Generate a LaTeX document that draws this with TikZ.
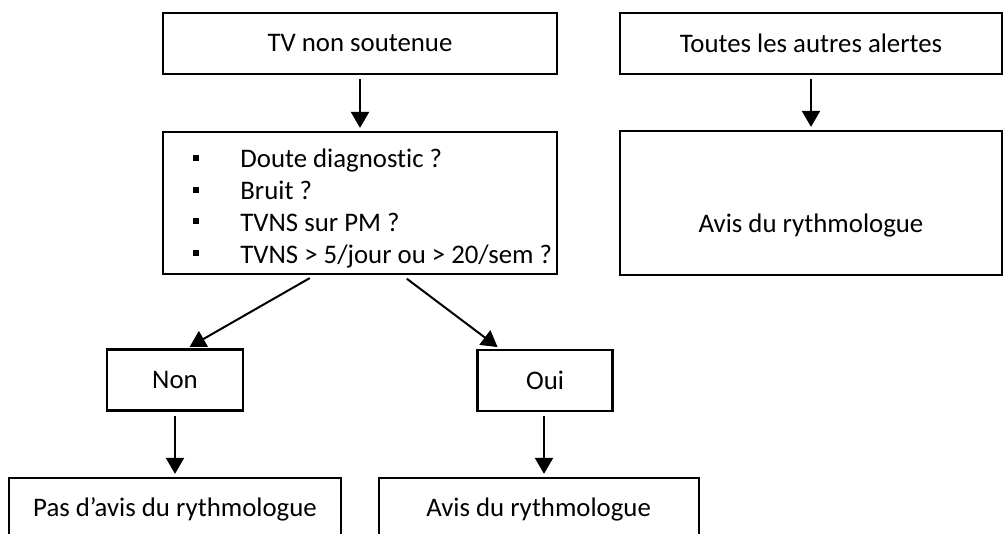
\documentclass[tikz,border=0pt]{standalone}
\usepackage{fontspec}
\setmainfont{Carlito}[Ligatures={CommonOff,RareOff}]
\usepackage{tikz}
\usetikzlibrary{arrows.meta, positioning, calc}

\begin{document}
\begin{tikzpicture}[
    x=0.5pt, y=-0.5pt,
    font=\fontsize{13.4}{15.85}\selectfont,
    box style/.style={draw, line width=1.1pt, inner sep=0pt, align=center,
        minimum height=30.5pt},
    flow/.style={-{Triangle[length=8pt, width=9pt]}, line width=1pt,
        shorten <=2pt, shorten >=1.5pt}
]
    \useasboundingbox (0,0) rectangle (1003,534);

    % --- Left column ---
    \node[box style, minimum width=197pt] (tv) at (360,43.5) {TV non soutenue};
    \node[box style, minimum width=197pt, minimum height=71pt] (quest) at (360,203) {};
    % list of questions inside the box
    \node[anchor=base west, inner sep=0pt] (questlist) at (193,168) {%
        \begin{tabular}[t]{@{}l@{}l@{}}
            \makebox[23.5pt][l]{\rule[3.5pt]{3pt}{3pt}} & Doute diagnostic ? \\
            \makebox[23.5pt][l]{\rule[3.5pt]{3pt}{3pt}} & Bruit ? \\
            \makebox[23.5pt][l]{\rule[3.5pt]{3pt}{3pt}} & TVNS sur PM ? \\
            \makebox[23.5pt][l]{\rule[3.5pt]{3pt}{3pt}} & TVNS > 5/jour ou > 20/sem ?
        \end{tabular}};

    % Answers
    \node[box style, minimum width=68pt] (non) at (175,380) {Non};
    \node[box style, minimum width=67.5pt] (oui) at (545,380.5) {Oui};

    % Results (cut by the bottom edge)
    \node[box style, minimum width=166pt, minimum height=31pt] (pasavis) at (175,509) {Pas d'avis du rythmologue};
    \node[box style, minimum width=160pt, minimum height=31pt] (avisoui) at (538.6,509) {Avis du rythmologue};

    % --- Right column ---
    \node[box style, minimum width=191pt] (autres) at (811,43.5) {Toutes les autres alertes};
    \node[box style, minimum width=191pt, minimum height=72pt] (avisautres) at (811,203)
        {\raisebox{-15pt}[0pt][0pt]{Avis du rythmologue}};

    % --- Connectors ---
    \draw[flow] (tv.south) -- (quest.north);
    \draw[flow] (autres.south) -- (avisautres.north);
    \draw[flow, shorten <=3pt] ([xshift=-22.5pt]quest.south) -- ([xshift=6pt]non.north);
    \draw[flow, shorten <=3pt] ([xshift=21pt]quest.south) -- ([xshift=-22.5pt]oui.north);
    \draw[flow] (non.south) -- (pasavis.north);
    \draw[flow] ([xshift=-0.5pt]oui.south) -- ([xshift=-0.5pt]oui.south |- avisoui.north);

\end{tikzpicture}
\end{document}
